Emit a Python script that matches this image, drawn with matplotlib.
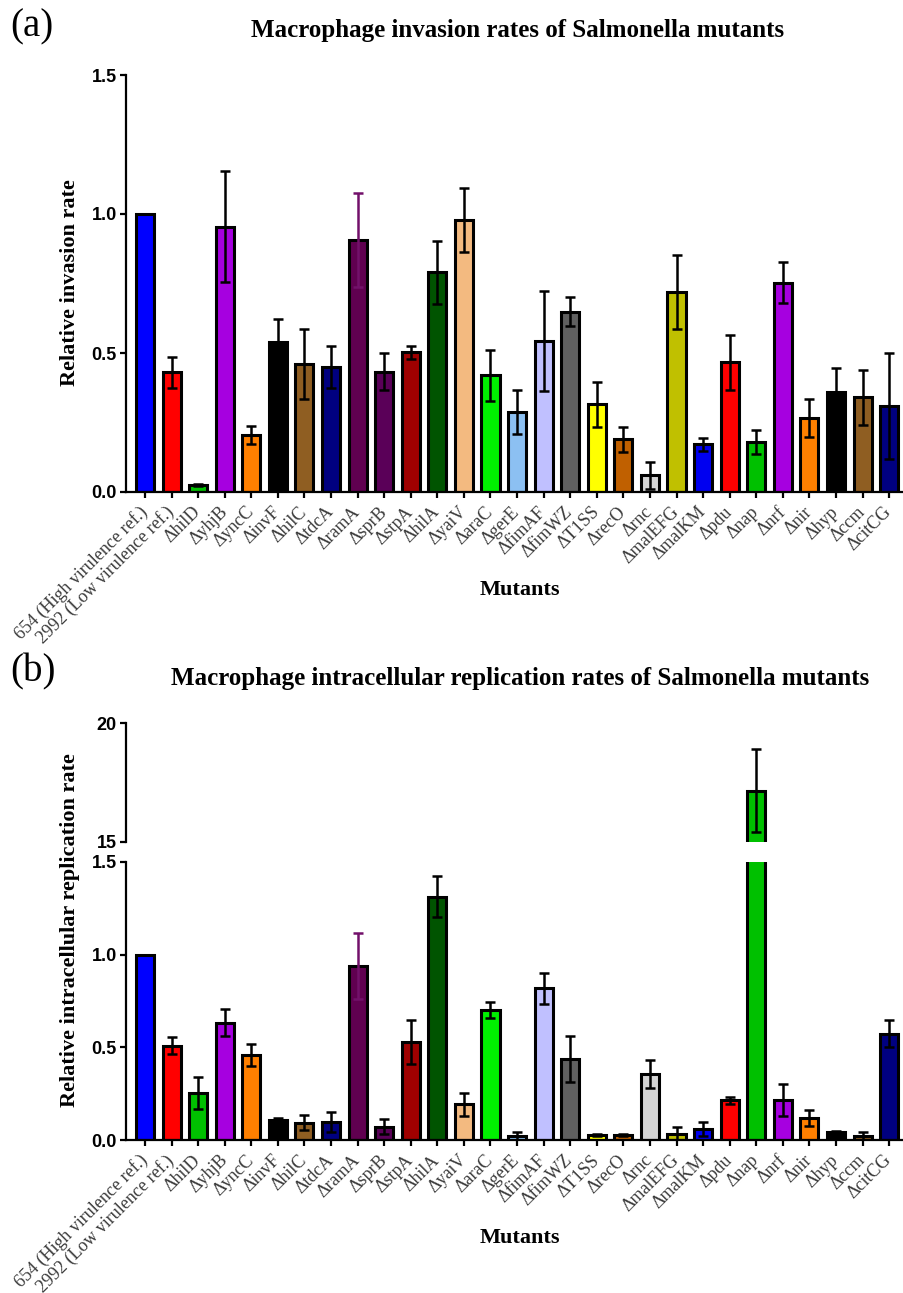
# Import the necessary packages
import numpy as np
import matplotlib
matplotlib.use('Agg')
import matplotlib.pyplot as plt

# Mutant names (same order in both panels)
mutants = ['654 (High virulence ref.)', '2992 (Low virulence ref.)', 'ΔhilD', 'ΔyhjB',
           'ΔyncC', 'ΔinvF', 'ΔhilC', 'ΔtdcA', 'ΔramA', 'ΔsprB', 'ΔstpA', 'ΔhilA',
           'ΔyaiV', 'ΔaraC', 'ΔgerE', 'ΔfimAF', 'ΔfimWZ', 'ΔT1SS', 'ΔrecO', 'Δrnc',
           'ΔmalEFG', 'ΔmalKM', 'Δpdu', 'Δnap', 'Δnrf', 'Δnir', 'Δhyp', 'Δccm', 'ΔcitCG']

bar_colors = ['#0000ff', '#ff0000', '#00c000', '#a600e0', '#ff8000', '#000000', '#8f5e22',
              '#000080', '#600050', '#5a0058', '#a00000', '#005400', '#f3ba80', '#00f000',
              '#8cc0f2', '#c0c0ff', '#606060', '#ffff00', '#c06000', '#d4d4d4', '#c0c000',
              '#0000f0', '#ff0000', '#00c000', '#a600e0', '#ff8000', '#000000', '#8f5e22',
              '#000080']

err_colors = ['black'] * 8 + ['#72106a'] + ['black'] * 20

# (a) relative invasion rate, mean and error
invasion = [1.0, 0.43, 0.025, 0.955, 0.205, 0.538, 0.46, 0.45, 0.906, 0.433, 0.502, 0.791,
            0.978, 0.42, 0.289, 0.542, 0.649, 0.315, 0.19, 0.06, 0.72, 0.171, 0.466, 0.179,
            0.753, 0.265, 0.361, 0.34, 0.31]
invasion_err = [0, 0.055, 0.005, 0.2, 0.032, 0.083, 0.125, 0.076, 0.17, 0.067, 0.022, 0.113,
                0.114, 0.092, 0.079, 0.18, 0.052, 0.08, 0.045, 0.048, 0.133, 0.023, 0.099,
                0.044, 0.073, 0.068, 0.085, 0.1, 0.19]

# (b) relative intracellular replication rate, mean and error
replication = [1.0, 0.51, 0.255, 0.633, 0.46, 0.11, 0.095, 0.099, 0.938, 0.073, 0.529, 1.311,
               0.194, 0.699, 0.025, 0.818, 0.437, 0.029, 0.028, 0.356, 0.032, 0.061, 0.216,
               17.16, 0.217, 0.12, 0.043, 0.022, 0.575]
replication_err = [0, 0.045, 0.085, 0.074, 0.06, 0.008, 0.04, 0.052, 0.178, 0.04, 0.12,
                   0.111, 0.063, 0.043, 0.021, 0.082, 0.125, 0.007, 0.005, 0.074, 0.042,
                   0.038, 0.018, 1.75, 0.087, 0.045, 0.009, 0.021, 0.075]

low_ticks = [0.0, 0.5, 1.0, 1.5]
low_ticklabels = ['0.0', '0.5', '1.0', '1.5']
high_ticks = [15, 20]
high_ticklabels = ['15', '20']

SERIF = 'Liberation Serif'
SANS = 'Liberation Sans'
W, H = 904, 1293


def style_axis(ax, ticks, ticklabels, show_x=True):
    """Spines, ticks and fonts in the GraphPad look."""
    ax.spines['top'].set_visible(False)
    ax.spines['right'].set_visible(False)
    ax.spines['left'].set_linewidth(1.6)
    ax.spines['bottom'].set_linewidth(1.6)
    ax.set_xlim(-0.715, len(mutants) - 1 + 0.56)
    ax.set_yticks(ticks)
    ax.set_yticklabels(ticklabels, fontfamily=SANS, fontweight='bold', fontsize=13)
    ax.tick_params(axis='y', width=1.6, length=4.5, pad=2)
    if show_x:
        ax.set_xticks(np.arange(len(mutants)))
        ax.set_xticklabels(mutants, rotation=45, ha='right', va='center',
                           rotation_mode='anchor', fontfamily=SERIF, fontsize=13,
                           color='#3a3a3a')
        ax.tick_params(axis='x', width=1.6, length=4.5, pad=8)
    else:
        ax.spines['bottom'].set_visible(False)
        ax.set_xticks([])


def draw_bars(ax, values, errors):
    x = np.arange(len(values))
    ax.bar(x, values, width=0.68, color=bar_colors, edgecolor='black', linewidth=2.2,
           zorder=2)
    for xi, v, e, c in zip(x, values, errors, err_colors):
        if e > 0:
            ax.errorbar(xi, v, yerr=e, color=c, elinewidth=1.8, capsize=3.6,
                        capthick=1.8, zorder=3)


fig = plt.figure(figsize=(W / 100, H / 100), dpi=100)
left = 126 / W

# Panel (a)
ax_a = fig.add_axes([left, 1 - 492 / H, 1 - left, 417 / H])
draw_bars(ax_a, invasion, invasion_err)
ax_a.set_ylim(0, 1.5)
style_axis(ax_a, low_ticks, low_ticklabels)

# Panel (b), broken y axis
ax_lo = fig.add_axes([left, 1 - 1140.3 / H, 1 - left, 278.6 / H])
draw_bars(ax_lo, replication, replication_err)
ax_lo.set_ylim(0, 1.5)
style_axis(ax_lo, low_ticks, low_ticklabels)

ax_hi = fig.add_axes([left, 1 - 842 / H, 1 - left, 119 / H])
draw_bars(ax_hi, replication, replication_err)
ax_hi.set_ylim(15, 20)
style_axis(ax_hi, high_ticks, high_ticklabels, show_x=False)

# Texts
fig.text(10 / W, 1 - 27 / H, '(a)', fontfamily=SERIF, fontsize=28, va='center')
fig.text(10 / W, 1 - 672 / H, '(b)', fontfamily=SERIF, fontsize=28, va='center')
fig.text(518 / W, 1 - 31 / H, 'Macrophage invasion rates of Salmonella mutants',
         fontfamily=SERIF, fontweight='bold', fontsize=18, ha='center', va='center')
fig.text(520 / W, 1 - 678 / H,
         'Macrophage intracellular replication rates of Salmonella mutants',
         fontfamily=SERIF, fontweight='bold', fontsize=18, ha='center', va='center')
fig.text(520 / W, 1 - 590 / H, 'Mutants', fontfamily=SERIF, fontweight='bold',
         fontsize=16, ha='center', va='center')
fig.text(520 / W, 1 - 1238 / H, 'Mutants', fontfamily=SERIF, fontweight='bold',
         fontsize=16, ha='center', va='center')
fig.text(70 / W, 1 - 283 / H, 'Relative invasion rate', fontfamily=SERIF,
         fontweight='bold', fontsize=16, rotation=90, ha='center', va='center')
fig.text(70 / W, 1 - 930 / H, 'Relative intracellular replication rate', fontfamily=SERIF,
         fontweight='bold', fontsize=16, rotation=90, ha='center', va='center')

fig.savefig('out.png', dpi=100)
